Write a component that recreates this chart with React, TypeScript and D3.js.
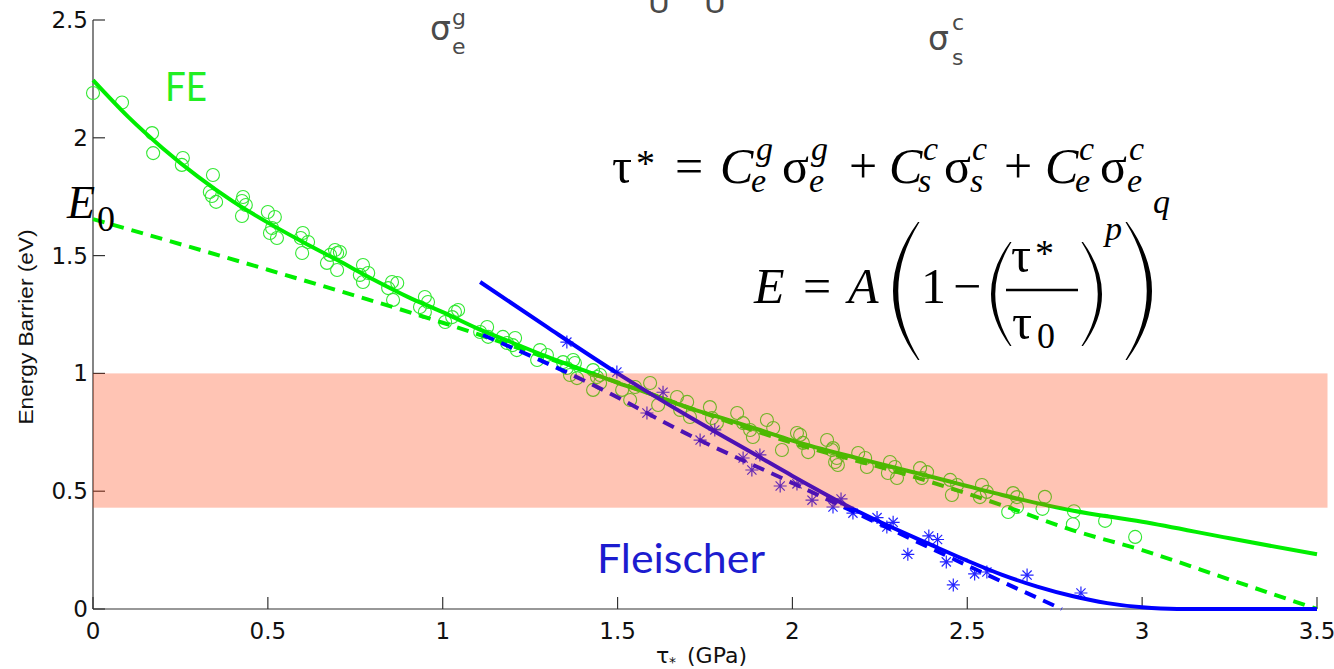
import React from "react";
import * as d3 from "d3";

const X_TICKS = [0, 0.5, 1, 1.5, 2, 2.5, 3, 3.5];
const X_TICK_LABELS = ["0", "0.5", "1", "1.5", "2", "2.5", "3", "3.5"];
const Y_TICKS = [0, 0.5, 1, 1.5, 2, 2.5];
const Y_TICK_LABELS = ["0", "0.5", "1", "1.5", "2", "2.5"];

// shaded band (energy range)
const BAND_Y = [0.43, 1.0];
const BAND_X = [0, 3.53];

// FE atomistic data (tau*, energy)
const feData: [number, number][] = [
  [0, 2.19], [0.083, 2.15], [0.169, 2.02], [0.172, 1.935], [0.257, 1.914], [0.254, 1.885],
  [0.343, 1.842], [0.334, 1.77], [0.34, 1.753], [0.352, 1.728], [0.429, 1.749], [0.426, 1.732],
  [0.437, 1.715], [0.426, 1.668], [0.5, 1.685], [0.52, 1.664], [0.512, 1.617], [0.506, 1.596],
  [0.526, 1.575], [0.6, 1.596], [0.594, 1.575], [0.615, 1.558], [0.598, 1.511], [0.692, 1.524],
  [0.678, 1.503], [0.698, 1.511], [0.669, 1.469], [0.706, 1.515], [0.698, 1.439], [0.772, 1.46],
  [0.763, 1.418], [0.787, 1.426], [0.772, 1.388], [0.855, 1.388], [0.87, 1.384], [0.844, 1.362],
  [0.858, 1.312], [0.949, 1.324], [0.958, 1.303], [0.935, 1.282], [0.949, 1.261], [1.035, 1.261],
  [1.044, 1.269], [1.027, 1.239], [1.007, 1.218], [1.127, 1.197], [1.107, 1.176], [1.13, 1.155],
  [1.207, 1.15], [1.2, 1.12], [1.184, 1.129], [1.172, 1.155], [1.212, 1.099], [1.278, 1.099],
  [1.27, 1.057], [1.298, 1.078], [1.344, 1.048], [1.378, 1.044], [1.373, 1.057], [1.355, 1.023],
  [1.364, 0.993], [1.384, 0.98], [1.43, 1.014], [1.45, 0.993], [1.441, 0.985], [1.45, 0.959],
  [1.43, 0.93], [1.513, 0.93], [1.55, 0.942], [1.536, 0.887], [1.593, 0.959], [1.616, 0.866],
  [1.67, 0.9], [1.699, 0.879], [1.679, 0.845], [1.707, 0.815], [1.764, 0.857], [1.77, 0.811],
  [1.784, 0.789], [1.842, 0.832], [1.859, 0.789], [1.879, 0.76], [1.887, 0.73], [1.927, 0.802],
  [1.945, 0.768], [1.97, 0.675], [2.013, 0.747], [2.03, 0.705], [2.045, 0.666], [2.099, 0.717],
  [2.116, 0.683], [2.122, 0.624], [2.022, 0.739], [2.113, 0.675], [2.127, 0.641], [2.13, 0.611],
  [2.188, 0.662], [2.208, 0.641], [2.213, 0.603], [2.279, 0.624], [2.293, 0.603], [2.273, 0.577],
  [2.299, 0.556], [2.365, 0.598], [2.385, 0.581], [2.37, 0.556], [2.451, 0.548], [2.471, 0.526],
  [2.456, 0.484], [2.542, 0.526], [2.556, 0.497], [2.536, 0.475], [2.631, 0.492], [2.642, 0.475],
  [2.617, 0.412], [2.642, 0.433], [2.722, 0.476], [2.715, 0.425], [2.805, 0.415], [2.802, 0.36],
  [2.894, 0.374], [2.98, 0.306],
];

// Fleischer data
const fleischerData: [number, number][] = [
  [1.355, 1.133], [1.498, 1.006], [1.63, 0.92], [1.584, 0.832], [1.778, 0.76], [1.736, 0.717],
  [1.907, 0.654], [1.859, 0.641], [1.884, 0.59], [1.965, 0.522], [2.013, 0.531], [2.056, 0.462],
  [2.139, 0.467], [2.116, 0.433], [2.173, 0.407], [2.242, 0.388], [2.288, 0.368], [2.27, 0.348],
  [2.39, 0.31], [2.415, 0.295], [2.33, 0.232], [2.44, 0.2], [2.46, 0.102], [2.521, 0.149],
  [2.556, 0.157], [2.671, 0.144], [2.825, 0.068],
];

// fitted curves
const feFitSolid: [number, number][] = [
  [0, 2.245], [0.1, 2.09], [0.2, 1.955], [0.3, 1.835], [0.4, 1.73], [0.5, 1.64], [0.6, 1.558],
  [0.7, 1.48], [0.8, 1.40], [0.9, 1.325], [1.0, 1.26], [1.1, 1.19], [1.2, 1.13], [1.3, 1.07],
  [1.4, 1.015], [1.5, 0.96], [1.6, 0.91], [1.7, 0.855], [1.8, 0.81], [1.9, 0.763], [2.0, 0.715],
  [2.2, 0.635], [2.4, 0.56], [2.6, 0.484], [2.8, 0.418], [3.0, 0.37], [3.25, 0.30], [3.5, 0.232],
];
const feFitDashed: [number, number][] = [
  [0, 1.655], [0.5, 1.44], [1.0, 1.215], [1.5, 0.962], [2.0, 0.705], [2.35, 0.56], [2.6, 0.44],
  [2.8, 0.335], [3.0, 0.25], [3.25, 0.125], [3.5, 0.0],
];
const flFitSolid: [number, number][] = [
  [1.107, 1.388], [1.3, 1.195], [1.5, 1.0], [1.7, 0.82], [1.9, 0.65], [2.0, 0.565], [2.2, 0.405],
  [2.4, 0.27], [2.5, 0.205], [2.6, 0.145], [2.7, 0.095], [2.8, 0.055], [2.9, 0.025], [3.0, 0.007],
  [3.1, 0.0], [3.5, 0.0],
];
const flFitDashed: [number, number][] = [
  [1.115, 1.163], [1.43, 0.951], [1.716, 0.73], [2.0, 0.535], [2.3, 0.325], [2.55, 0.15], [2.77, 0.0],
];

const GREEN = "#00ee00";
const GREEN_MARK = "#33e833";
const BLUE = "#0000ff";

const x = d3.scaleLinear().domain([0, 3.5]).range([93, 1317]);
const y = d3.scaleLinear().domain([0, 2.5]).range([609, 20]);

const smooth = d3.line<[number, number]>().x((d) => x(d[0])).y((d) => y(d[1])).curve(d3.curveMonotoneX);

function starPath(cx: number, cy: number, r: number) {
  const d = r * 0.7071;
  return `M${cx - r},${cy}L${cx + r},${cy}M${cx},${cy - r}L${cx},${cy + r}M${cx - d},${cy - d}L${cx + d},${cy + d}M${cx - d},${cy + d}L${cx + d},${cy - d}`;
}

function paren(x0: number, yTop: number, yBot: number, w: number, t: number, left: boolean) {
  const mid = (yTop + yBot) / 2;
  if (left) {
    const xe = x0 + w;
    return `M${xe},${yTop} Q${x0 - w},${mid} ${xe},${yBot} L${xe + 1.5},${yBot} Q${x0 - w + 2 * t},${mid} ${xe + 1.5},${yTop} Z`;
  } else {
    const xe = x0;
    const xm = x0 + w;
    return `M${xe},${yTop} Q${xm + w},${mid} ${xe},${yBot} L${xe - 1.5},${yBot} Q${xm + w - 2 * t},${mid} ${xe - 1.5},${yTop} Z`;
  }
}

const MATH = "'Liberation Serif', 'DejaVu Serif', serif";
const SANS = "'DejaVu Sans', Arial, sans-serif";
const ARIAL = "'Liberation Sans', Arial, sans-serif";

function T(props: { x: number; y: number; s: number; it?: boolean; c?: string; f?: string; children: any }) {
  return (
    <text
      x={props.x}
      y={props.y}
      fontSize={props.s}
      fontStyle={props.it ? "italic" : "normal"}
      fontFamily={props.f || MATH}
      fill={props.c || "#000"}
    >
      {props.children}
    </text>
  );
}

export default function App() {
  return (
    <svg width={1334} height={669} style={{ position: "absolute", left: 0, top: 0, background: "#fff" }}>
      <rect x={0} y={0} width={1334} height={669} fill="#fff" />

      {/* cropped top labels */}
      <g fill="#4a4a4a" fontFamily={SANS}>
        <text x={430} y={40} fontSize={33}>σ</text>
        <text x={452} y={25} fontSize={22}>g</text>
        <text x={452} y={54} fontSize={22}>e</text>
        <text x={648} y={13} fontSize={30}>U</text>
        <text x={704} y={13} fontSize={30}>U</text>
        <text x={928} y={50} fontSize={33}>σ</text>
        <text x={952} y={30} fontSize={22}>c</text>
        <text x={952} y={65} fontSize={22}>s</text>
      </g>

      {/* axes */}
      <g stroke="#333" strokeWidth={1.2}>
        <line x1={x(0)} x2={x(0)} y1={y(2.5)} y2={y(0)} />
        <line x1={x(0)} x2={x(3.5)} y1={y(0)} y2={y(0)} />
        {X_TICKS.map((t) => (
          <line key={"xt" + t} x1={x(t)} x2={x(t)} y1={y(0)} y2={y(0) - 12} />
        ))}
        {Y_TICKS.map((t) => (
          <line key={"yt" + t} x1={x(0)} x2={x(0) + 12} y1={y(t)} y2={y(t)} />
        ))}
      </g>
      <g fontFamily={SANS} fontSize={23} fill="#111">
        {X_TICKS.map((t, i) => (
          <text key={"xl" + t} x={x(t)} y={639} textAnchor="middle">{X_TICK_LABELS[i]}</text>
        ))}
        {Y_TICKS.map((t, i) => (
          <text key={"yl" + t} x={88} y={y(t) + 8} textAnchor="end">{Y_TICK_LABELS[i]}</text>
        ))}
      </g>
      <text
        transform="translate(33,327) rotate(-90)"
        textAnchor="middle"
        fontFamily={ARIAL}
        fontSize={20}
        fill="#111"
        textLength={195}
        lengthAdjust="spacingAndGlyphs"
      >
        Energy Barrier (eV)
      </text>
      <g fontFamily={SANS} fill="#111">
        <text x={656} y={663} fontSize={22}>τ</text>
        <text x={669} y={667} fontSize={14}>*</text>
        <text x={687} y={663} fontSize={22}>(GPa)</text>
      </g>

      {/* FE data */}
      <g fill="none" stroke={GREEN_MARK} strokeWidth={1.1}>
        {feData.map((d, i) => (
          <circle key={"c" + i} cx={x(d[0])} cy={y(d[1])} r={6.5} />
        ))}
      </g>
      <path d={smooth(feFitSolid) || ""} fill="none" stroke={GREEN} strokeWidth={4} />
      <path d={smooth(feFitDashed) || ""} fill="none" stroke={GREEN} strokeWidth={4} strokeDasharray="12,8" />

      {/* Fleischer data */}
      <g stroke={BLUE} strokeWidth={1.2} opacity={0.85}>
        {fleischerData.map((d, i) => (
          <path key={"s" + i} d={starPath(x(d[0]), y(d[1]), 6.5)} />
        ))}
      </g>
      <path d={smooth(flFitSolid) || ""} fill="none" stroke={BLUE} strokeWidth={4} />
      <path d={smooth(flFitDashed) || ""} fill="none" stroke={BLUE} strokeWidth={4} strokeDasharray="12,8" />

      {/* band */}
      <rect
        x={x(BAND_X[0])}
        y={y(BAND_Y[1])}
        width={x(BAND_X[1]) - x(BAND_X[0])}
        height={y(BAND_Y[0]) - y(BAND_Y[1])}
        fill="rgb(255,60,5)"
        opacity={0.3}
      />

      {/* labels */}
      <text x={165} y={101} fontFamily="Lato, 'Open Sans', sans-serif" fontSize={41} fill="#22ee22" textLength={42} lengthAdjust="spacingAndGlyphs">FE</text>
      <text x={597} y={573} fontFamily="Lato, 'Open Sans', sans-serif" fontSize={41} fill="#1c1ccf" textLength={168} lengthAdjust="spacingAndGlyphs">Fleischer</text>

      <T x={67} y={218} s={46} it>E</T>
      <T x={97} y={231} s={36}>0</T>

      {/* equation 1 */}
      <T x={612} y={183} s={50}>τ</T>
      <T x={636} y={176} s={38}>*</T>
      <T x={675} y={183} s={50}>=</T>
      <T x={720} y={183} s={50} it>C</T>
      <T x={756} y={160} s={34} it>g</T>
      <T x={751} y={192} s={34} it>e</T>
      <T x={782} y={183} s={50}>σ</T>
      <T x={811} y={160} s={34} it>g</T>
      <T x={809} y={192} s={34} it>e</T>
      <T x={849} y={183} s={50}>+</T>
      <T x={889} y={183} s={50} it>C</T>
      <T x={923} y={160} s={34} it>c</T>
      <T x={918} y={192} s={34} it>s</T>
      <T x={944} y={183} s={50}>σ</T>
      <T x={972} y={160} s={34} it>c</T>
      <T x={970} y={192} s={34} it>s</T>
      <T x={1004} y={183} s={50}>+</T>
      <T x={1045} y={183} s={50} it>C</T>
      <T x={1079} y={160} s={34} it>c</T>
      <T x={1075} y={192} s={34} it>e</T>
      <T x={1100} y={183} s={50}>σ</T>
      <T x={1129} y={160} s={34} it>c</T>
      <T x={1127} y={192} s={34} it>e</T>

      {/* equation 2 */}
      <T x={754} y={303} s={50} it>E</T>
      <T x={803} y={303} s={50}>=</T>
      <T x={848} y={303} s={50} it>A</T>
      <path d={paren(893, 222, 360, 25, 4.5, true)} fill="#000" />
      <T x={921} y={303} s={50}>1</T>
      <T x={953} y={303} s={50}>−</T>
      <path d={paren(991, 242, 346, 19, 3.5, true)} fill="#000" />
      <T x={1011} y={272} s={50}>τ</T>
      <T x={1035} y={266} s={38}>*</T>
      <line x1={1006} x2={1078} y1={290} y2={290} stroke="#000" strokeWidth={2.5} />
      <T x={1012} y={339} s={50}>τ</T>
      <T x={1037} y={348} s={36}>0</T>
      <path d={paren(1083, 242, 346, 19, 3.5, false)} fill="#000" />
      <T x={1105} y={240} s={34} it>p</T>
      <path d={paren(1127, 222, 360, 25, 4.5, false)} fill="#000" />
      <T x={1153} y={213} s={34} it>q</T>
    </svg>
  );
}
